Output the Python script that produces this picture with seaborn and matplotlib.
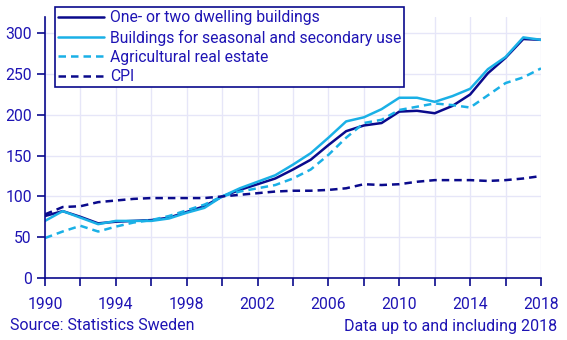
import matplotlib
matplotlib.use("Agg")
import matplotlib.pyplot as plt
import seaborn as sns
import pandas as pd

years = list(range(1990, 2019))
one_two = [76, 82, 75, 67, 69, 70, 71, 74, 81, 88, 100, 108, 115, 122, 133, 145, 163, 180, 187, 190, 204, 205, 202, 211, 225, 251, 270, 293, 292]
seasonal = [70, 82, 74, 66, 70, 70, 70, 73, 80, 86, 100, 110, 118, 126, 139, 153, 172, 192, 197, 207, 221, 221, 216, 223, 232, 256, 271, 295, 292]
agri = [49, 57, 64, 57, 63, 68, 71, 76, 83, 90, 100, 106, 110, 114, 122, 133, 151, 172, 190, 194, 206, 210, 214, 212, 209, 224, 239, 246, 257]
cpi = [78, 87, 88, 93, 95, 97, 98, 98, 98, 98, 100, 102, 104, 106, 107, 107, 108, 110, 115, 114, 115, 118, 120, 120, 120, 119, 120, 122, 125]
labels = ["One- or two dwelling buildings", "Buildings for seasonal and secondary use",
          "Agricultural real estate", "CPI"]
source_text = "Source: Statistics Sweden"
note_text = "Data up to and including 2018"

sns.set_theme(style="white")
plt.rcParams['font.family'] = ['Roboto', 'DejaVu Sans']

NAVY = "#0a0a8c"
LIGHT = "#1ab0e6"
TXT = "#1e14b4"

df = pd.DataFrame({"year": years * 4,
                   "value": one_two + seasonal + agri + cpi,
                   "series": sum([[l] * len(years) for l in labels], [])})

fig = plt.figure(figsize=(5.67, 3.40), dpi=100)
ax = fig.add_axes([45/567, 1-278/340, (541-45)/567, (278-17)/340])

palette = {labels[0]: NAVY, labels[1]: LIGHT, labels[2]: LIGHT, labels[3]: NAVY}
dashes = {labels[0]: "", labels[1]: "", labels[2]: (3, 2), labels[3]: (3, 2)}
sns.lineplot(data=df, x="year", y="value", hue="series", style="series",
             palette=palette, dashes=dashes, hue_order=labels, style_order=labels,
             linewidth=1.8, ax=ax, legend=True)

ax.set_xlim(1990, 2018)
ax.set_ylim(0, 320)
ax.set_xticks(range(1990, 2019, 2))
ax.set_xticklabels([str(y) if (y - 1990) % 4 == 0 else "" for y in range(1990, 2019, 2)])
ax.set_yticks(range(0, 301, 50))
ax.set_xlabel("")
ax.set_ylabel("")
ax.grid(True, color="#e6e6f8", linewidth=1)
ax.set_axisbelow(True)
for s in ["top", "right"]:
    ax.spines[s].set_visible(False)
for s in ["left", "bottom"]:
    ax.spines[s].set_color(NAVY)
    ax.spines[s].set_linewidth(1.2)
ax.tick_params(axis="both", colors=NAVY, labelcolor=TXT, labelsize=11.3,
               length=6, width=1.2, direction="out", left=True, bottom=True)
ax.tick_params(axis="x", pad=8)

leg = ax.legend(loc="upper left", bbox_to_anchor=(10/496, 1+10/261), frameon=True,
                fancybox=False, edgecolor=NAVY, fontsize=11.3, labelcolor=TXT,
                handlelength=2.9, handletextpad=0.4, borderpad=0.2,
                labelspacing=0.28, borderaxespad=0)
leg.get_frame().set_linewidth(1.2)
leg.get_frame().set_facecolor("white")
leg.get_frame().set_alpha(1)

fig.text(10/567, 1-326/340, source_text, color=TXT, fontsize=11.5, va="center", ha="left")
fig.text(557/567, 1-326/340, note_text, color=TXT, fontsize=11.5, va="center", ha="right")

fig.savefig("out.png", dpi=100)
